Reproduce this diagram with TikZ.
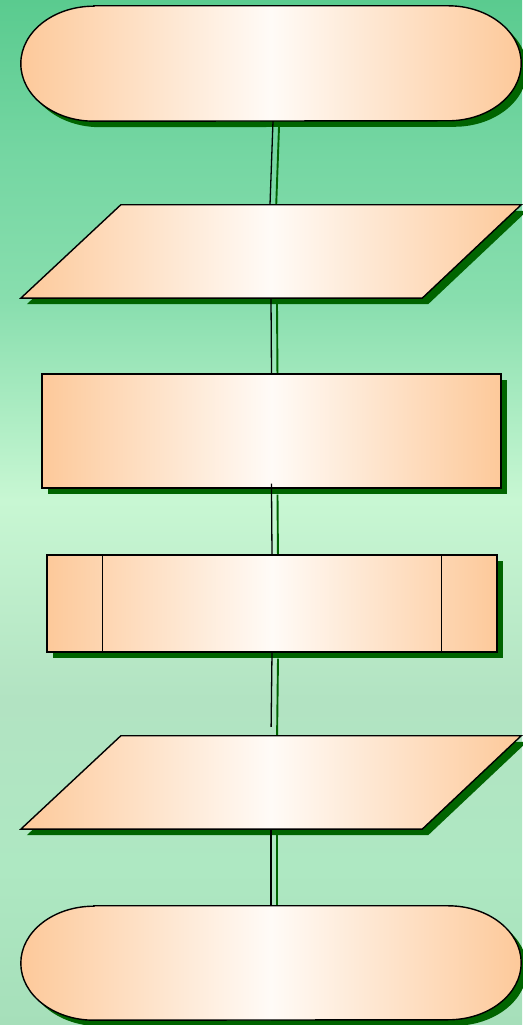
\documentclass[tikz,border=0pt]{standalone}
\usetikzlibrary{shadows,backgrounds}
\definecolor{peach}{HTML}{FDC99A}
\definecolor{peachmid}{HTML}{FFFBF7}
\definecolor{leaf}{HTML}{006400}
\definecolor{bgTop}{HTML}{5ACB8F}
\definecolor{bgA}{HTML}{74D6A2}
\definecolor{bgB}{HTML}{88DEAE}
\definecolor{bgC}{HTML}{C8F7D3}
\definecolor{bgD}{HTML}{B2E3C2}
\definecolor{bgE}{HTML}{AEE8C2}
\definecolor{bgBot}{HTML}{A6DFBA}
\pgfdeclareverticalshading{meadow}{100bp}{color(0bp)=(bgBot); color(25bp)=(bgBot); color(32.6bp)=(bgE); color(40.9bp)=(bgD); color(50.6bp)=(bgC); color(60.4bp)=(bgB); color(67.7bp)=(bgA); color(75bp)=(bgTop); color(100bp)=(bgTop)}

\tikzset{
  flowshade/.style={draw=black, line width=1.4pt, left color=peach, right color=peach, middle color=peachmid,
    drop shadow={shadow xshift=6pt, shadow yshift=-6pt, fill=leaf, opacity=1}},
  slot/.style={rectangle, inner sep=0pt},
  procbox/.style={flowshade, rectangle, inner sep=0pt},
  conn/.style={draw=black, line width=1.3pt},
  connshadow/.style={draw=leaf, line width=1.9pt, transform canvas={xshift=6pt, yshift=-6pt}}
}

\begin{document}
\begin{tikzpicture}[x=1pt, y=1pt]
  \useasboundingbox (0,0) rectangle (522,1025);

  % flowchart boxes
  \node[slot, minimum width=500, minimum height=115] (start) at (271, 961.5) {};
  \path[flowshade] ([xshift=73]start.north west) -- ([xshift=-73]start.north east)
    arc[start angle=90, end angle=-90, x radius=73, y radius=57.5]
    -- ([xshift=73]start.south west)
    arc[start angle=270, end angle=90, x radius=73, y radius=57.5] -- cycle;

  \node[slot, minimum width=500, minimum height=93] (in1) at (271, 773.5) {};
  \path[flowshade] ([xshift=100]in1.north west) -- (in1.north east)
    -- ([xshift=-99]in1.south east) -- (in1.south west) -- cycle;

  \node[procbox, minimum width=459, minimum height=114] (prep) at (271.5, 594) {};

  \node[procbox, minimum width=450, minimum height=97] (sub) at (272, 421.5) {};
  \draw[line width=1.4pt] ([xshift=56]sub.north west) -- ([xshift=56]sub.south west);
  \draw[line width=1.4pt] ([xshift=-56]sub.north east) -- ([xshift=-56]sub.south east);

  \node[slot, minimum width=500, minimum height=93] (out1) at (271, 242.5) {};
  \path[flowshade] ([xshift=100]out1.north west) -- (out1.north east)
    -- ([xshift=-99]out1.south east) -- (out1.south west) -- cycle;

  \node[slot, minimum width=500, minimum height=114] (stop) at (271, 62) {};
  \path[flowshade] ([xshift=73]stop.north west) -- ([xshift=-73]stop.north east)
    arc[start angle=90, end angle=-90, x radius=73, y radius=57]
    -- ([xshift=73]stop.south west)
    arc[start angle=270, end angle=90, x radius=73, y radius=57] -- cycle;

  % connectors
  \draw[conn] ([xshift=2]start.south) -- ([xshift=-1]in1.north);
  \draw[conn] (in1.south) -- (prep.north);
  \draw[conn, shorten <=-5pt] (prep.south) -- (sub.north);
  \draw[conn, shorten >=9pt] (sub.south) -- (out1.north);
  \draw[conn] (out1.south) -- (stop.north);

  \begin{scope}[on background layer]
    \fill[shading=meadow] (0,0) rectangle (522,1025);
    \draw[connshadow] ([xshift=2]start.south) -- ([xshift=-1]in1.north);
    \draw[connshadow] (in1.south) -- (prep.north);
    \draw[connshadow] (prep.south) -- (sub.north);
    \draw[connshadow] (sub.south) -- (out1.north);
    \draw[connshadow] (out1.south) -- (stop.north);
  \end{scope}
\end{tikzpicture}
\end{document}
